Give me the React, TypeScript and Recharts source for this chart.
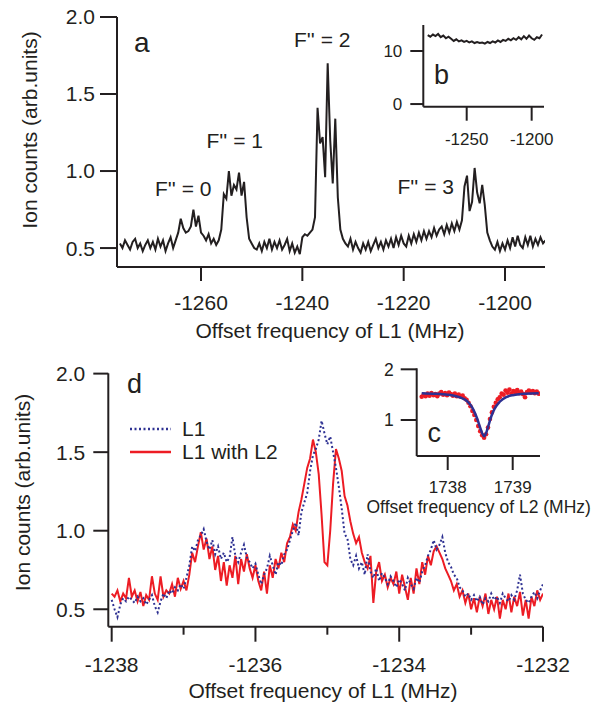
import React from "react";
import { LineChart, Line, XAxis, YAxis, Legend, ComposedChart } from "recharts";

const FONT = "'Liberation Sans', Arial, Helvetica, sans-serif";
const INK = "#231f20";
const BLUE = "#2e3192";
const RED = "#ed1c24";

// panel a: survey scan of L1, 0.5 MHz steps
const A_START = -1276;
const A_STEP = 0.5;
const aCounts = [
  0.53, 0.50, 0.55, 0.52, 0.49, 0.54, 0.56, 0.50, 0.53, 0.48,
  0.52, 0.55, 0.50, 0.54, 0.49, 0.56, 0.51, 0.55, 0.48, 0.53,
  0.57, 0.50, 0.55, 0.60, 0.69, 0.63, 0.60, 0.61, 0.64, 0.75,
  0.64, 0.71, 0.60, 0.58, 0.55, 0.59, 0.53, 0.56, 0.52, 0.55,
  0.62, 0.85, 0.82, 1.00, 0.84, 0.91, 0.88, 0.99, 0.84, 0.93,
  0.70, 0.56, 0.53, 0.50, 0.49, 0.53, 0.48, 0.54, 0.50, 0.56,
  0.49, 0.54, 0.50, 0.55, 0.49, 0.52, 0.56, 0.48, 0.53, 0.47,
  0.51, 0.46, 0.57, 0.59, 0.58, 0.60, 0.62, 0.70, 1.41, 1.18,
  1.22, 0.96, 1.70, 1.20, 0.92, 1.34, 0.83, 0.62, 0.56, 0.53,
  0.51, 0.56, 0.49, 0.54, 0.50, 0.47, 0.53, 0.49, 0.54, 0.48,
  0.52, 0.56, 0.50, 0.54, 0.49, 0.55, 0.51, 0.56, 0.50, 0.57,
  0.52, 0.58, 0.53, 0.51, 0.58, 0.53, 0.59, 0.54, 0.60, 0.55,
  0.61, 0.56, 0.61, 0.57, 0.63, 0.58, 0.62, 0.64, 0.59, 0.65,
  0.60, 0.66, 0.61, 0.67, 0.62, 0.68, 0.90, 0.97, 0.74, 0.80,
  1.02, 0.86, 0.79, 0.91, 0.78, 0.60, 0.55, 0.51, 0.49, 0.54,
  0.48, 0.53, 0.49, 0.55, 0.50, 0.57, 0.51, 0.58, 0.52, 0.50,
  0.57, 0.52, 0.58, 0.51, 0.56, 0.52, 0.57, 0.53, 0.55,
];
const aTicksX = [-1260, -1240, -1220, -1200];
const aTicksY = [0.5, 1.0, 1.5, 2.0];

// panel b: wide scan, 2 MHz steps
const B_START = -1280;
const B_STEP = 2;
const bCounts = [
  13.0, 12.7, 13.1, 12.8, 13.2, 12.6, 12.9, 12.4, 12.7, 12.3,
  11.9, 12.2, 11.8, 12.0, 11.7, 11.9, 11.6, 11.8, 11.5, 11.7,
  11.5, 11.6, 11.4, 11.7, 11.5, 11.8, 11.6, 12.0, 11.7, 12.1,
  11.9, 12.3, 12.0, 12.4, 12.1, 12.6, 12.2, 12.8, 12.3, 12.9,
  12.4, 12.1, 12.6, 12.4, 13.1,
];
const bTicksX = [-1250, -1200];
const bTicksY = [0, 10];

// panel d: fine scan, 0.04 MHz steps
const D_START = -1238;
const D_STEP = 0.04;
const dL1 = [
  0.56, 0.50, 0.45, 0.53, 0.57, 0.55, 0.58, 0.56, 0.54, 0.58,
  0.55, 0.57, 0.53, 0.56, 0.59, 0.52, 0.48, 0.55, 0.60, 0.57,
  0.62, 0.60, 0.64, 0.62, 0.66, 0.63, 0.70, 0.78, 0.90, 0.87,
  0.94, 0.97, 1.01, 0.93, 0.88, 0.94, 0.85, 0.90, 0.82, 0.86,
  0.80, 0.83, 0.96, 0.84, 0.80, 0.86, 0.91, 0.83, 0.80, 0.76,
  0.79, 0.72, 0.66, 0.72, 0.76, 0.84, 0.78, 0.72, 0.80, 0.78,
  0.85, 0.88, 0.94, 1.00, 1.05, 0.97, 1.12, 1.18, 1.24, 1.38,
  1.48, 1.52, 1.58, 1.70, 1.62, 1.55, 1.60, 1.50, 1.40, 1.28,
  1.14, 0.98, 0.95, 0.82, 0.78, 0.84, 0.76, 0.80, 0.72, 0.85,
  0.74, 0.70, 0.76, 0.68, 0.73, 0.70, 0.66, 0.71, 0.68, 0.64,
  0.69, 0.66, 0.62, 0.70, 0.66, 0.63, 0.70, 0.67, 0.74, 0.78,
  0.84, 0.88, 0.94, 0.88, 0.91, 0.96, 0.86, 0.80, 0.77, 0.72,
  0.70, 0.64, 0.62, 0.58, 0.60, 0.56, 0.59, 0.55, 0.58, 0.53,
  0.57, 0.55, 0.60, 0.56, 0.58, 0.54, 0.60, 0.57, 0.55, 0.59,
  0.56, 0.62, 0.72, 0.60, 0.56, 0.54, 0.58, 0.61, 0.57, 0.62,
  0.66,
];
const dL1L2 = [
  0.60, 0.58, 0.62, 0.55, 0.60, 0.57, 0.70, 0.58, 0.62, 0.55,
  0.61, 0.52, 0.59, 0.56, 0.71, 0.60, 0.56, 0.71, 0.58, 0.62,
  0.60, 0.66, 0.58, 0.70, 0.63, 0.68, 0.62, 0.72, 0.86, 0.80,
  0.90, 0.99, 0.88, 0.95, 0.82, 0.90, 0.75, 0.84, 0.68, 0.80,
  0.65, 0.78, 0.70, 0.84, 0.66, 0.82, 0.74, 0.85, 0.76, 0.70,
  0.78, 0.68, 0.62, 0.74, 0.60, 0.78, 0.70, 0.82, 0.76, 0.86,
  0.80, 0.92, 0.96, 1.04, 1.00, 1.12, 1.20, 1.30, 1.40, 1.46,
  1.58, 1.50, 1.36, 1.10, 0.80, 0.78, 1.00, 1.30, 1.52, 1.46,
  1.38, 1.22, 1.16, 1.06, 0.98, 0.92, 0.96, 0.86, 0.80, 0.76,
  0.84, 0.54, 0.74, 0.80, 0.68, 0.72, 0.64, 0.70, 0.66, 0.74,
  0.60, 0.72, 0.64, 0.56, 0.70, 0.60, 0.76, 0.66, 0.80, 0.72,
  0.84, 0.78, 0.87, 0.90, 0.86, 0.82, 0.76, 0.72, 0.68, 0.62,
  0.66, 0.58, 0.62, 0.54, 0.60, 0.50, 0.57, 0.48, 0.58, 0.52,
  0.60, 0.47, 0.56, 0.50, 0.58, 0.44, 0.56, 0.50, 0.60, 0.48,
  0.58, 0.52, 0.61, 0.46, 0.56, 0.44, 0.58, 0.52, 0.62, 0.56,
  0.60,
];
const dTicksX = [-1238, -1237, -1236, -1235, -1234, -1233, -1232];
const dTicksY = [0.5, 1.0, 1.5, 2.0];

// panel c: L2 scan (points) and Lorentzian fit
const C_START = 1737.6;
const C_STEP = 0.03;
const cCounts = [
  1.46, 1.50, 1.47, 1.52, 1.48, 1.53, 1.49, 1.51, 1.47, 1.52,
  1.55, 1.50, 1.53, 1.49, 1.54, 1.51, 1.48, 1.52, 1.47, 1.50,
  1.46, 1.48, 1.43, 1.40, 1.34, 1.27, 1.18, 1.10, 1.00, 0.88,
  0.78, 0.70, 0.65, 0.72, 0.85, 1.02, 1.15, 1.26, 1.34, 1.41,
  1.45, 1.52, 1.50, 1.58, 1.54, 1.60, 1.52, 1.57, 1.55, 1.59,
  1.53, 1.56, 1.51, 1.45, 1.55, 1.58, 1.54, 1.57, 1.53, 1.56,
  1.52,
];
const cFitFreq = [
  1737.6, 1737.8, 1738.0, 1738.1, 1738.2, 1738.3, 1738.35, 1738.4, 1738.45, 1738.5, 1738.53,
  1738.56, 1738.59, 1738.62, 1738.67, 1738.72, 1738.8, 1738.9, 1739.0, 1739.1, 1739.2, 1739.4,
];
const cFitCounts = [
  1.53, 1.52, 1.50, 1.48, 1.44, 1.37, 1.30, 1.19, 1.04, 0.85, 0.74,
  0.68, 0.74, 0.86, 1.07, 1.22, 1.36, 1.45, 1.49, 1.51, 1.52, 1.53,
];
const cTicksX = [1738, 1739];
const cTicksY = [1, 2];

const legendOrder = ["L1", "L1 with L2"];

const grid = (start: number, step: number, i: number) => Number((start + i * step).toFixed(2));

const aData = aCounts.map((v, i) => ({ f: grid(A_START, A_STEP, i), v }));
const bData = bCounts.map((v, i) => ({ f: grid(B_START, B_STEP, i), v }));
const dData = dL1.map((v, i) => ({ f: grid(D_START, D_STEP, i), l1: v, l2: dL1L2[i] }));
const cPoints = cCounts.map((v, i) => ({ f: grid(C_START, C_STEP, i), v }));
const cFit = cFitFreq.map((f, i) => ({ f, v: cFitCounts[i] }));

const axisLine = { stroke: INK, strokeWidth: 2 };
const tickLine = { stroke: INK, strokeWidth: 2 };
const tickFont = (size: number) => ({ fill: INK, fontSize: size, fontFamily: FONT });
const oneDecimal = (v: number) => v.toFixed(1);

const D_TICK = 15;
const D_MINOR = 8;
const D_GAP = 15;

function DTick(props: any) {
  const { x, y, payload } = props;
  const axisY = y - D_TICK - D_GAP;
  const major = payload.value % 2 === 0;
  return (
    <g>
      <line x1={x} y1={axisY} x2={x} y2={axisY + (major ? D_TICK : D_MINOR)} stroke={INK} strokeWidth={2} />
      {major && (
        <text x={x} y={y} dy="0.71em" textAnchor="middle" fill={INK} fontSize={21} fontFamily={FONT}>
          {payload.value}
        </text>
      )}
    </g>
  );
}

function DLegend(props: any) {
  const items = [...(props.payload ?? [])].sort(
    (p: any, q: any) => legendOrder.indexOf(p.value) - legendOrder.indexOf(q.value)
  );
  return (
    <div style={{ fontFamily: FONT, fontSize: 21, color: INK }}>
      {items.map((it: any) => (
        <div key={it.value} style={{ display: "flex", alignItems: "center", height: 23 }}>
          <svg width={41} height={6}>
            <line x1={0} y1={3} x2={41} y2={3} stroke={it.color} strokeWidth={2.5}
              strokeDasharray={it.payload?.strokeDasharray} />
          </svg>
          <span style={{ marginLeft: 11, lineHeight: "23px" }}>{it.value}</span>
        </div>
      ))}
    </div>
  );
}

// red dots for panel c, drawn as the Line's own dots
function CDot(props: any) {
  const { cx, cy } = props;
  if (cx == null || cy == null) return null;
  return <circle cx={cx} cy={cy} r={2.3} fill={RED} />;
}

export default function App() {
  return (
    <div style={{ position: "absolute", left: 0, top: 0, width: 596, height: 702, background: "#fff", fontFamily: FONT }}>
      {/* panel a */}
      <div style={{ position: "absolute", left: 0, top: 0 }}>
        <LineChart width={596} height={345} data={aData} margin={{ top: 17, right: 51, bottom: 0, left: 0 }}>
          <XAxis type="number" dataKey="f" domain={[-1276.58, -1192.11]} ticks={aTicksX} interval={0}
            allowDataOverflow height={78} axisLine={axisLine} tickLine={tickLine} tickSize={14} tickMargin={14}
            tick={tickFont(21)} />
          <YAxis type="number" domain={[0.377, 2]} ticks={aTicksY} interval={0} allowDataOverflow width={117}
            axisLine={axisLine} tickLine={tickLine} tickSize={17} tickMargin={5} tick={tickFont(21)}
            tickFormatter={oneDecimal} />
          <Line type="linear" dataKey="v" stroke={INK} strokeWidth={2} dot={false} isAnimationActive={false} />
        </LineChart>
      </div>

      {/* panel b (inset) */}
      <div style={{ position: "absolute", left: 380, top: 0 }}>
        <LineChart width={216} height={160} data={bData} margin={{ top: 25, right: 52, bottom: 0, left: 0 }}>
          <XAxis type="number" dataKey="f" domain={[-1283.4, -1190.5]} ticks={bTicksX} interval={0}
            allowDataOverflow height={53.3} axisLine={axisLine} tickLine={tickLine} tickSize={14} tickMargin={12}
            tick={tickFont(17)} />
          <YAxis type="number" domain={[-0.5, 14.9]} ticks={bTicksY} interval={0} allowDataOverflow width={43.3}
            axisLine={axisLine} tickLine={tickLine} tickSize={13} tickMargin={8} tick={tickFont(17)} />
          <Line type="linear" dataKey="v" stroke={INK} strokeWidth={2} dot={false} isAnimationActive={false} />
        </LineChart>
      </div>

      {/* panel d */}
      <div style={{ position: "absolute", left: 0, top: 340 }}>
        <LineChart width={596} height={362} data={dData} margin={{ top: 33.3, right: 53, bottom: 0, left: 0 }}>
          <XAxis type="number" dataKey="f" domain={[-1238.047, -1232]} ticks={dTicksX} interval={0}
            allowDataOverflow height={75.3} axisLine={axisLine} tickLine={false} tickSize={D_TICK}
            tickMargin={D_GAP} tick={DTick} />
          <YAxis type="number" domain={[0.389, 2.002]} ticks={dTicksY} interval={0} allowDataOverflow width={108.3}
            axisLine={axisLine} tickLine={tickLine} tickSize={15} tickMargin={8} tick={tickFont(21)}
            tickFormatter={oneDecimal} />
          <Line type="linear" dataKey="l2" name="L1 with L2" stroke={RED} strokeWidth={2} dot={false}
            isAnimationActive={false} />
          <Line type="linear" dataKey="l1" name="L1" stroke={BLUE} strokeWidth={2} strokeDasharray="2 2.5"
            dot={false} isAnimationActive={false} />
          <Legend layout="horizontal" verticalAlign="middle" align="center" content={DLegend}
            wrapperStyle={{ top: 77, left: 130, width: "auto" }} />
        </LineChart>
      </div>

      {/* panel c (inset) */}
      <div style={{ position: "absolute", left: 360, top: 350 }}>
        <ComposedChart width={236} height={180} margin={{ top: 18.3, right: 56, bottom: 0, left: 0 }}>
          <XAxis type="number" dataKey="f" domain={[1737.523, 1739.42]} ticks={cTicksX} interval={0}
            allowDataOverflow height={74} axisLine={axisLine} tickLine={tickLine} tickSize={14} tickMargin={11}
            tick={tickFont(17)} />
          <YAxis type="number" dataKey="v" domain={[0.29, 2.02]} ticks={cTicksY} interval={0} allowDataOverflow
            width={56.7} axisLine={axisLine} tickLine={tickLine} tickSize={16} tickMargin={7} tick={tickFont(17.5)} />
          <Line data={cPoints} type="linear" dataKey="v" stroke="none" isAnimationActive={false} dot={CDot} />
          <Line data={cFit} type="monotone" dataKey="v" stroke={BLUE} strokeWidth={2.5} dot={false}
            isAnimationActive={false} zIndex={2000} />
        </ComposedChart>
      </div>

      {/* text annotations */}
      <svg width={596} height={702} style={{ position: "absolute", left: 0, top: 0, pointerEvents: "none" }}
        fontFamily={FONT} fill={INK}>
        <text x={134} y={51.5} fontSize={28}>a</text>
        <text x={155} y={196} fontSize={21}>F'' = 0</text>
        <text x={206.5} y={147.5} fontSize={21}>F'' = 1</text>
        <text x={294} y={46.5} fontSize={21}>F'' = 2</text>
        <text x={397.5} y={193.5} fontSize={21}>F'' = 3</text>
        <text x={434} y={83.5} fontSize={27}>b</text>
        <text x={127} y={393} fontSize={27}>d</text>
        <text x={427.5} y={441.5} fontSize={27}>c</text>
        <text x={330} y={338} fontSize={21} textAnchor="middle">Offset frequency of L1 (MHz)</text>
        <text x={323} y={698} fontSize={21} textAnchor="middle">Offset frequency of L1 (MHz)</text>
        <text x={366.5} y={513} fontSize={17.5}>Offset frequency of L2 (MHz)</text>
        <text transform="translate(37,130) rotate(-90)" fontSize={21} textAnchor="middle">Ion counts (arb.units)</text>
        <text transform="translate(29.5,492.5) rotate(-90)" fontSize={21} textAnchor="middle">Ion counts (arb.units)</text>
      </svg>
    </div>
  );
}
